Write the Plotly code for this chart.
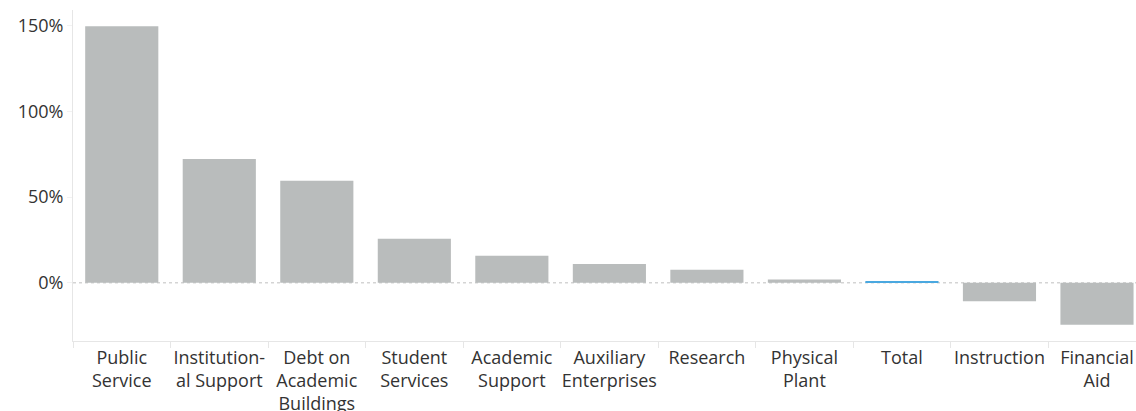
import plotly.graph_objects as go

categories = ["Public<br>Service", "Institution-<br>al Support", "Debt on<br>Academic<br>Buildings",
              "Student<br>Services", "Academic<br>Support", "Auxiliary<br>Enterprises", "Research",
              "Physical<br>Plant", "Total", "Instruction", "Financial<br>Aid"]
values = [149.5, 72.2, 59.5, 25.7, 15.8, 11.0, 7.6, 2.0, 0.8, -10.7, -24.5]
colors = ["#b9bcbc"] * 8 + ["#4aa8e0"] + ["#b9bcbc"] * 2
tick_vals = [0, 50, 100, 150]
tick_text = ["0%", "50%", "100%", "150%"]

fig = go.Figure(go.Bar(x=categories, y=values, marker=dict(color=colors, line=dict(width=0)),
                       hoverinfo="x+y"))

fig.add_shape(type="line", xref="paper", yref="y", x0=0, x1=1, y0=0, y1=0,
              line=dict(color="#bfbfbf", width=1, dash="dot"), layer="below")

fig.update_layout(
    width=1136, height=411,
    margin=dict(l=73, r=0, t=10, b=70, autoexpand=False),
    plot_bgcolor="white", paper_bgcolor="white",
    bargap=0.25,
    font=dict(family="Open Sans, Noto Sans, sans-serif", size=18, color="#333333"),
    showlegend=False,
    xaxis=dict(range=[-0.5, 10.4], showline=True, linecolor="#e6e6e6", linewidth=1,
               tickson="boundaries", ticks="outside", ticklen=6, tickcolor="#e6e6e6",
               showgrid=False, tickfont=dict(size=18, color="#333333"), tickangle=0,
               automargin=False),
    yaxis=dict(range=[-33.9, 159], tickvals=tick_vals, ticktext=tick_text,
               showgrid=False, zeroline=False,
               showline=True, linecolor="#e6e6e6", linewidth=1, ticks="outside",
               ticklen=5, tickcolor="#f2f2f2", automargin=False,
               tickfont=dict(size=18, color="#333333")),
)

fig.write_html(
    "out.html",
    config={"displayModeBar": False},
    post_script=("document.body.style.margin='0px';"
                 "document.body.style.overflow='hidden';"
                 "document.documentElement.style.overflow='hidden';"),
)
